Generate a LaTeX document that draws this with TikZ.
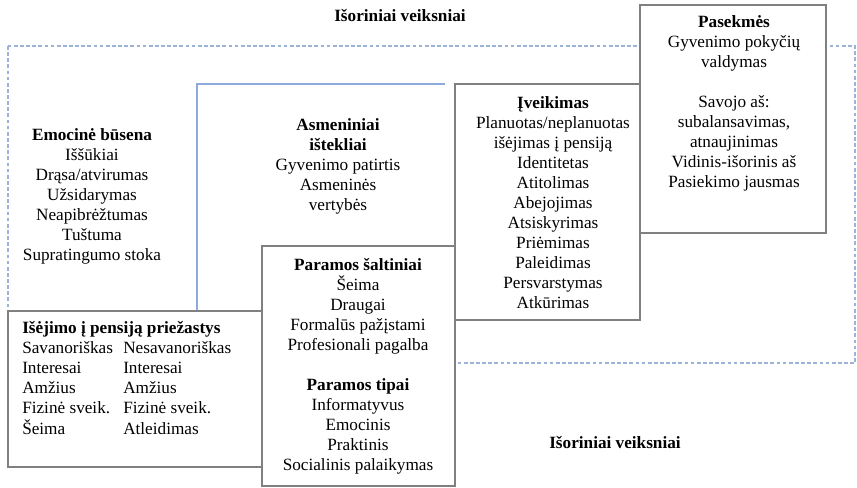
\documentclass[tikz,border=0pt]{standalone}
\usepackage{fontspec}
\setmainfont{Liberation Serif}
\usepackage{tikz}
\usetikzlibrary{positioning,shadows}

\definecolor{outerblue}{HTML}{9DB2DA}
\definecolor{innerblue}{HTML}{8EAADB}
\newcommand{\topstrut}{\rule{0pt}{12pt}}

\begin{document}
\begin{tikzpicture}[x=0.75pt, y=-0.75pt,
  font=\fontsize{12.9pt}{15pt}\selectfont,
  box/.style={fill=white, draw=black!50, line width=1.5pt,
    drop shadow={shadow xshift=1.1pt, shadow yshift=-1.1pt, fill=black, opacity=0.35}},
  outer/.style={draw=outerblue, line width=1.8pt, dash pattern=on 2.8pt off 1.8pt},
  inner/.style={draw=innerblue, line width=1.4pt},
  txt/.style={anchor=north, align=center, inner sep=0pt}]
    \useasboundingbox (0,0) rectangle (857,488);
    %
    \draw[outer] (8,46) rectangle (855,363);
    \draw[inner] (197,311) -- (197,84) -- (445,84);
    %
    \node[txt] (emo) at (92,124) {\topstrut\textbf{Emocinė būsena}\\ Iššūkiai\\ Drąsa/atvirumas\\ Užsidarymas\\ Neapibrėžtumas\\ Tuštuma\\ Supratingumo stoka};
    \node[txt] (res) at (338,114) {\topstrut\textbf{Asmeniniai}\\ \textbf{ištekliai}\\ Gyvenimo patirtis\\ Asmeninės\\ vertybės};
    %
    \draw[box] (8,311) rectangle (270,467);
    \node[anchor=north west, inner sep=0pt] (reas) at (22,317) {%
      \begin{tabular}{@{}p{75.75pt}@{}l@{}}
        \multicolumn{2}{@{}l@{}}{\topstrut\textbf{Išėjimo į pensiją priežastys}}\\
        Savanoriškas & Nesavanoriškas\\
        Interesai & Interesai\\
        Amžius & Amžius\\
        Fizinė sveik. & Fizinė sveik.\\
        Šeima & Atleidimas
      \end{tabular}};
    %
    \draw[box] (262,246) rectangle (455,486);
    \node[txt] (supp) at (358,254) {\topstrut\textbf{Paramos šaltiniai}\\ Šeima\\ Draugai\\ Formalūs pažįstami\\ Profesionali pagalba\\[15pt] \textbf{Paramos tipai}\\ Informatyvus\\ Emocinis\\ Praktinis\\ Socialinis palaikymas};
    %
    \draw[box] (455,84) rectangle (640,320);
    \node[txt] (cope) at (553,92) {\topstrut\textbf{Įveikimas}\\ Planuotas/neplanuotas\\ išėjimas į pensiją\\ Identitetas\\ Atitolimas\\ Abejojimas\\ Atsiskyrimas\\ Priėmimas\\ Paleidimas\\ Persvarstymas\\ Atkūrimas};
    %
    \draw[box] (640,5) rectangle (826,233);
    \node[txt] (outc) at (734,11) {\topstrut\textbf{Pasekmės}\\ Gyvenimo pokyčių\\ valdymas\\[15pt] Savojo aš:\\ subalansavimas,\\ atnaujinimas\\ Vidinis-išorinis aš\\ Pasiekimo jausmas};
    %
    \node[txt] (ext_top) at (400,5) {\topstrut\textbf{Išoriniai veiksniai}};
    \node[txt] (ext_bot) at (615,432) {\topstrut\textbf{Išoriniai veiksniai}};
  \end{tikzpicture}
\end{document}
